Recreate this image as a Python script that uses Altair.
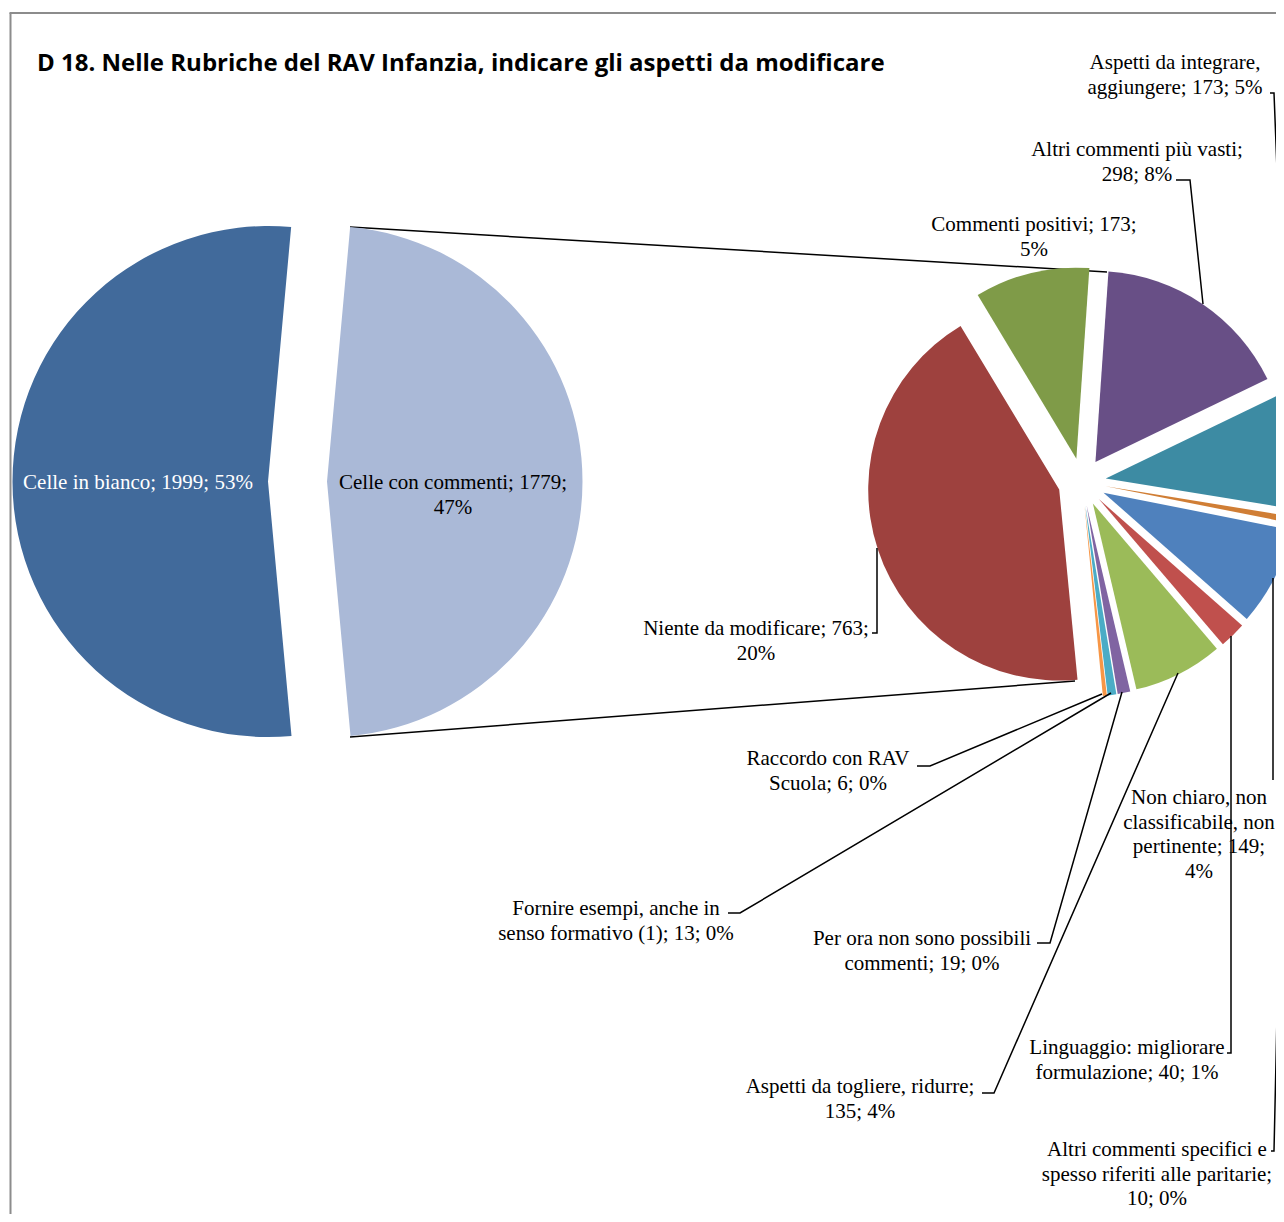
import altair as alt
import pandas as pd

# ---------------- data ----------------
title_text = "D 18. Nelle Rubriche del RAV Infanzia, indicare gli aspetti da modificare"

primary_cats = ["Celle con commenti", "Celle in bianco"]
primary_vals = [1779, 1999]
primary_pcts = ["47%", "53%"]
primary_colors = ["#AAB9D7", "#416A9B"]

# "|" marks where the category name wraps
secondary_cats = [
    "Niente da modificare",
    "Commenti positivi",
    "Altri commenti più vasti",
    "Aspetti da integrare,|aggiungere",
    "Altri commenti specifici e|spesso riferiti alle paritarie",
    "Non chiaro, non|classificabile, non|pertinente",
    "Linguaggio: migliorare|formulazione",
    "Aspetti da togliere, ridurre",
    "Per ora non sono possibili|commenti",
    "Fornire esempi, anche in|senso formativo (1)",
    "Raccordo con RAV|Scuola",
]
secondary_vals = [763, 173, 298, 173, 10, 149, 40, 135, 19, 13, 6]
secondary_pcts = ["20%", "5%", "8%", "5%", "0%", "4%", "1%", "4%", "0%", "0%", "0%"]
secondary_colors = ["#9E413E", "#7F9B48", "#684F86", "#3D8BA3", "#D07E35",
                    "#4F81BD", "#C0504D", "#9BBB59", "#8064A2", "#4BACC6", "#F79646"]

# ---------------- layout ----------------
W, H = 1268, 1206
P_CX, P_CY, P_R, P_D, P_START = 289.5, 473.5, 255.5, 29.5, 5.2
S_CX, S_CY, S_R, S_D, S_START = 1074.0, 474.0, 191.0, 24.0, 174.5

primary_tmpl = ["{c}; {v};|{p}", "{c}; {v}; {p}"]
primary_lpos = [(445, 481), (130, 481)]
primary_tcol = ["#000000", "#FFFFFF"]

secondary_tmpl = ["{c}; {v};|{p}", "{c}; {v};|{p}", "{c};|{v}; {p}", "{c}; {v}; {p}",
                  "{c};|{v}; {p}", "{c}; {v};|{p}", "{c}; {v}; {p}", "{c};|{v}; {p}",
                  "{c}; {v}; {p}", "{c}; {v}; {p}", "{c}; {v}; {p}"]
secondary_lpos = [(748, 627), (1026, 223), (1129, 148), (1167, 61), (1149, 1148),
                  (1191, 796), (1119, 1046), (852, 1085), (914, 937), (608, 907), (820, 757)]

leaders = [
    [(864, 625), (869, 625), (869, 540)],
    [(1168, 172), (1182, 172), (1195, 296)],
    [(1262, 85), (1266, 85), (1278, 392)],
    [(1263, 1143), (1266, 1143), (1280, 512)],
    [(1265, 772), (1265, 570)],
    [(1219, 1045), (1223, 1045), (1223, 628)],
    [(974, 1085), (986, 1085), (1170, 665)],
    [(1029, 935), (1042, 935), (1114, 684)],
    [(720, 905), (732, 905), (1103, 685)],
    [(909, 758), (922, 758), (1094, 686)],
]
connectors = [((342, 219), (1099, 264)), ((342, 729), (1067, 673))]

FONT_LABEL = "Liberation Serif"

# ---------------- build ----------------
def pie(cats, vals, colors, cx, cy, r, d, start):
    df = pd.DataFrame({"cat": cats, "value": vals, "color": colors, "order": range(len(cats))})
    return (
        alt.Chart(df)
        .transform_window(cum="sum(value)", sort=[alt.SortField("order")], frame=[None, 0])
        .transform_joinaggregate(total="sum(value)")
        .transform_calculate(
            t0=f"{start}*PI/180 + 2*PI*(datum.cum - datum.value)/datum.total",
            t1=f"{start}*PI/180 + 2*PI*datum.cum/datum.total",
        )
        .transform_calculate(
            px=f"{cx} + {d}*sin((datum.t0 + datum.t1)/2)",
            py=f"{cy} - {d}*cos((datum.t0 + datum.t1)/2)",
        )
        .mark_arc(radius=r)
        .encode(
            x=alt.X("px:Q", scale=None, axis=None),
            y=alt.Y("py:Q", scale=None, axis=None),
            theta=alt.Theta("t0:Q", scale=None),
            theta2="t1:Q",
            color=alt.Color("color:N", scale=None, legend=None),
        )
    )


def labels(cats, vals, pcts, tmpls, pos, tcols):
    rows = []
    for c, v, p, t, (x, y), col in zip(cats, vals, pcts, tmpls, pos, tcols):
        rows.append({"txt": t.format(c=c, v=v, p=p), "lx": x, "ly": y, "tc": col})
    return alt.Chart(pd.DataFrame(rows)).mark_text(
        font=FONT_LABEL, fontSize=21, align="center", baseline="alphabetic",
        lineBreak="|", lineHeight=24.5,
    ).encode(
        x=alt.X("lx:Q", scale=None, axis=None),
        y=alt.Y("ly:Q", scale=None, axis=None),
        text="txt:N",
        color=alt.Color("tc:N", scale=None, legend=None),
    )


lead_rows = []
for i, pts in enumerate(leaders):
    for k, (x, y) in enumerate(pts):
        lead_rows.append({"id": i, "k": k, "x": x, "y": y})
leader_layer = alt.Chart(pd.DataFrame(lead_rows)).mark_line(
    color="#000000", strokeWidth=1.5
).encode(
    x=alt.X("x:Q", scale=None, axis=None),
    y=alt.Y("y:Q", scale=None, axis=None),
    detail="id:N",
    order="k:Q",
)

conn_df = pd.DataFrame([{"x": a[0], "y": a[1], "x2": b[0], "y2": b[1]} for a, b in connectors])
conn_layer = alt.Chart(conn_df).mark_rule(color="#000000", strokeWidth=1.5).encode(
    x=alt.X("x:Q", scale=None, axis=None),
    y=alt.Y("y:Q", scale=None, axis=None),
    x2="x2:Q",
    y2="y2:Q",
)

frame_df = pd.DataFrame([
    {"x": 2.5, "y": 5, "x2": 2.5, "y2": H + 20},
    {"x": 1.5, "y": 5, "x2": W + 20, "y2": 5},
])
frame_layer = alt.Chart(frame_df).mark_rule(color="#8C8C8C", strokeWidth=2).encode(
    x=alt.X("x:Q", scale=None, axis=None),
    y=alt.Y("y:Q", scale=None, axis=None),
    x2="x2:Q",
    y2="y2:Q",
)

title_layer = alt.Chart(pd.DataFrame({"t": [title_text], "x": [29], "y": [63]})).mark_text(
    font="Open Sans", fontSize=24, fontWeight="bold", align="left", baseline="alphabetic",
    color="#000000",
).encode(
    x=alt.X("x:Q", scale=None, axis=None),
    y=alt.Y("y:Q", scale=None, axis=None),
    text="t:N",
)

chart = alt.layer(
    frame_layer,
    conn_layer,
    pie(primary_cats, primary_vals, primary_colors, P_CX, P_CY, P_R, P_D, P_START),
    pie(secondary_cats, secondary_vals, secondary_colors, S_CX, S_CY, S_R, S_D, S_START),
    leader_layer,
    labels(primary_cats, primary_vals, primary_pcts, primary_tmpl, primary_lpos, primary_tcol),
    labels(secondary_cats, secondary_vals, secondary_pcts, secondary_tmpl, secondary_lpos,
           ["#000000"] * len(secondary_cats)),
    title_layer,
).properties(
    width=W, height=H, padding=0, autosize=alt.AutoSizeParams(type="none"),
    background="#FFFFFF",
).configure_view(stroke=None)

chart.save("out.html", embed_options={"renderer": "svg", "actions": False})
